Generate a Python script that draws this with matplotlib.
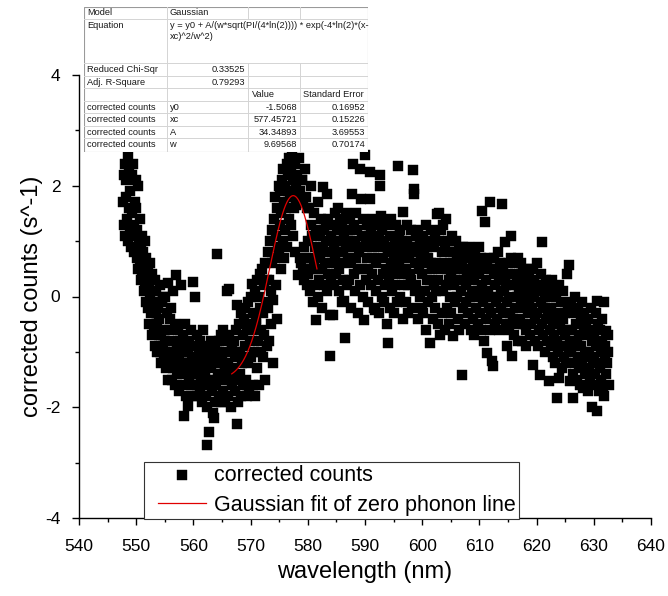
import matplotlib
matplotlib.use("Agg")
import matplotlib.pyplot as plt
import numpy as np

plt.rcParams['font.family'] = ['Liberation Sans', 'DejaVu Sans']
plt.rcParams['axes.unicode_minus'] = False

# ---------------- data ----------------
wavelength_nm = [
    547.7, 547.8, 547.9,
    548.0, 548.1, 548.2, 548.3, 548.4, 548.5, 548.6, 548.7, 548.8, 548.9,
    549.0, 549.1, 549.2, 549.3, 549.4, 549.5, 549.6, 549.7, 549.8, 549.9,
    550.0, 550.1, 550.2, 550.3, 550.4, 550.5, 550.6, 550.7, 550.8, 550.9,
    551.0, 551.1, 551.2, 551.3, 551.4, 551.5, 551.6, 551.7, 551.8, 551.9,
    552.0, 552.1, 552.2, 552.3, 552.4, 552.5, 552.6, 552.7, 552.8, 552.9,
    553.0, 553.1, 553.2, 553.3, 553.4, 553.5, 553.6, 553.7, 553.8, 553.9,
    554.0, 554.1, 554.2, 554.3, 554.4, 554.5, 554.6, 554.7, 554.8, 554.9,
    555.0, 555.1, 555.2, 555.3, 555.4, 555.5, 555.6, 555.7, 555.8, 555.9,
    556.0, 556.1, 556.2, 556.3, 556.4, 556.5, 556.6, 556.7, 556.8, 556.9,
    557.0, 557.1, 557.2, 557.3, 557.4, 557.5, 557.6, 557.7, 557.8, 557.9,
    558.0, 558.1, 558.2, 558.3, 558.4, 558.5, 558.6, 558.7, 558.8, 558.9,
    559.0, 559.1, 559.2, 559.3, 559.4, 559.5, 559.6, 559.7, 559.8, 559.9,
    560.0, 560.1, 560.2, 560.3, 560.4, 560.5, 560.6, 560.7, 560.8, 560.9,
    561.0, 561.1, 561.2, 561.3, 561.4, 561.5, 561.6, 561.7, 561.8, 561.9,
    562.0, 562.1, 562.2, 562.3, 562.4, 562.5, 562.6, 562.7, 562.8, 562.9,
    563.0, 563.1, 563.2, 563.3, 563.4, 563.5, 563.6, 563.7, 563.8, 563.9,
    564.0, 564.1, 564.2, 564.3, 564.4, 564.5, 564.6, 564.7, 564.8, 564.9,
    565.0, 565.1, 565.2, 565.3, 565.4, 565.5, 565.6, 565.7, 565.8, 565.9,
    566.0, 566.1, 566.2, 566.3, 566.4, 566.5, 566.6, 566.7, 566.8, 566.9,
    567.0, 567.1, 567.2, 567.3, 567.4, 567.5, 567.6, 567.7, 567.8, 567.9,
    568.0, 568.1, 568.2, 568.3, 568.4, 568.5, 568.6, 568.7, 568.8, 568.9,
    569.0, 569.1, 569.2, 569.3, 569.4, 569.5, 569.6, 569.7, 569.8, 569.9,
    570.0, 570.1, 570.2, 570.3, 570.4, 570.5, 570.6, 570.7, 570.8, 570.9,
    571.0, 571.1, 571.2, 571.3, 571.4, 571.5, 571.6, 571.7, 571.8, 571.9,
    572.0, 572.1, 572.2, 572.3, 572.4, 572.5, 572.6, 572.7, 572.8, 572.9,
    573.0, 573.1, 573.2, 573.3, 573.4, 573.5, 573.6, 573.7, 573.8, 573.9,
    574.0, 574.1, 574.2, 574.3, 574.4, 574.5, 574.6, 574.7, 574.8, 574.9,
    575.0, 575.1, 575.2, 575.3, 575.4, 575.5, 575.6, 575.7, 575.8, 575.9,
    576.0, 576.1, 576.2, 576.3, 576.4, 576.5, 576.6, 576.7, 576.8, 576.9,
    577.0, 577.1, 577.2, 577.3, 577.4, 577.5, 577.6, 577.7, 577.8, 577.9,
    578.0, 578.1, 578.2, 578.3, 578.4, 578.5, 578.6, 578.7, 578.8, 578.9,
    579.0, 579.1, 579.2, 579.3, 579.4, 579.5, 579.6, 579.7, 579.8, 579.9,
    580.0, 580.1, 580.2, 580.3, 580.4, 580.5, 580.6, 580.7, 580.8, 580.9,
    581.0, 581.1, 581.2, 581.3, 581.4, 581.5, 581.6, 581.7, 581.8, 581.9,
    582.0, 582.1, 582.2, 582.3, 582.4, 582.5, 582.6, 582.7, 582.8, 582.9,
    583.0, 583.1, 583.2, 583.3, 583.4, 583.5, 583.6, 583.7, 583.8, 583.9,
    584.0, 584.1, 584.2, 584.3, 584.4, 584.5, 584.6, 584.7, 584.8, 584.9,
    585.0, 585.1, 585.2, 585.3, 585.4, 585.5, 585.6, 585.7, 585.8, 585.9,
    586.0, 586.1, 586.2, 586.3, 586.4, 586.5, 586.6, 586.7, 586.8, 586.9,
    587.0, 587.1, 587.2, 587.3, 587.4, 587.5, 587.6, 587.7, 587.8, 587.9,
    588.0, 588.1, 588.2, 588.3, 588.4, 588.5, 588.6, 588.7, 588.8, 588.9,
    589.0, 589.1, 589.2, 589.3, 589.4, 589.5, 589.6, 589.7, 589.8, 589.9,
    590.0, 590.1, 590.2, 590.3, 590.4, 590.5, 590.6, 590.7, 590.8, 590.9,
    591.0, 591.1, 591.2, 591.3, 591.4, 591.5, 591.6, 591.7, 591.8, 591.9,
    592.0, 592.1, 592.2, 592.3, 592.4, 592.5, 592.6, 592.7, 592.8, 592.9,
    593.0, 593.1, 593.2, 593.3, 593.4, 593.5, 593.6, 593.7, 593.8, 593.9,
    594.0, 594.1, 594.2, 594.3, 594.4, 594.5, 594.6, 594.7, 594.8, 594.9,
    595.0, 595.1, 595.2, 595.3, 595.4, 595.5, 595.6, 595.7, 595.8, 595.9,
    596.0, 596.1, 596.2, 596.3, 596.4, 596.5, 596.6, 596.7, 596.8, 596.9,
    597.0, 597.1, 597.2, 597.3, 597.4, 597.5, 597.6, 597.7, 597.8, 597.9,
    598.0, 598.1, 598.2, 598.3, 598.4, 598.5, 598.6, 598.7, 598.8, 598.9,
    599.0, 599.1, 599.2, 599.3, 599.4, 599.5, 599.6, 599.7, 599.8, 599.9,
    600.0, 600.1, 600.2, 600.3, 600.4, 600.5, 600.6, 600.7, 600.8, 600.9,
    601.0, 601.1, 601.2, 601.3, 601.4, 601.5, 601.6, 601.7, 601.8, 601.9,
    602.0, 602.1, 602.2, 602.3, 602.4, 602.5, 602.6, 602.7, 602.8, 602.9,
    603.0, 603.1, 603.2, 603.3, 603.4, 603.5, 603.6, 603.7, 603.8, 603.9,
    604.0, 604.1, 604.2, 604.3, 604.4, 604.5, 604.6, 604.7, 604.8, 604.9,
    605.0, 605.1, 605.2, 605.3, 605.4, 605.5, 605.6, 605.7, 605.8, 605.9,
    606.0, 606.1, 606.2, 606.3, 606.4, 606.5, 606.6, 606.7, 606.8, 606.9,
    607.0, 607.1, 607.2, 607.3, 607.4, 607.5, 607.6, 607.7, 607.8, 607.9,
    608.0, 608.1, 608.2, 608.3, 608.4, 608.5, 608.6, 608.7, 608.8, 608.9,
    609.0, 609.1, 609.2, 609.3, 609.4, 609.5, 609.6, 609.7, 609.8, 609.9,
    610.0, 610.1, 610.2, 610.3, 610.4, 610.5, 610.6, 610.7, 610.8, 610.9,
    611.0, 611.1, 611.2, 611.3, 611.4, 611.5, 611.6, 611.7, 611.8, 611.9,
    612.0, 612.1, 612.2, 612.3, 612.4, 612.5, 612.6, 612.7, 612.8, 612.9,
    613.0, 613.1, 613.2, 613.3, 613.4, 613.5, 613.6, 613.7, 613.8, 613.9,
    614.0, 614.1, 614.2, 614.3, 614.4, 614.5, 614.6, 614.7, 614.8, 614.9,
    615.0, 615.1, 615.2, 615.3, 615.4, 615.5, 615.6, 615.7, 615.8, 615.9,
    616.0, 616.1, 616.2, 616.3, 616.4, 616.5, 616.6, 616.7, 616.8, 616.9,
    617.0, 617.1, 617.2, 617.3, 617.4, 617.5, 617.6, 617.7, 617.8, 617.9,
    618.0, 618.1, 618.2, 618.3, 618.4, 618.5, 618.6, 618.7, 618.8, 618.9,
    619.0, 619.1, 619.2, 619.3, 619.4, 619.5, 619.6, 619.7, 619.8, 619.9,
    620.0, 620.1, 620.2, 620.3, 620.4, 620.5, 620.6, 620.7, 620.8, 620.9,
    621.0, 621.1, 621.2, 621.3, 621.4, 621.5, 621.6, 621.7, 621.8, 621.9,
    622.0, 622.1, 622.2, 622.3, 622.4, 622.5, 622.6, 622.7, 622.8, 622.9,
    623.0, 623.1, 623.2, 623.3, 623.4, 623.5, 623.6, 623.7, 623.8, 623.9,
    624.0, 624.1, 624.2, 624.3, 624.4, 624.5, 624.6, 624.7, 624.8, 624.9,
    625.0, 625.1, 625.2, 625.3, 625.4, 625.5, 625.6, 625.7, 625.8, 625.9,
    626.0, 626.1, 626.2, 626.3, 626.4, 626.5, 626.6, 626.7, 626.8, 626.9,
    627.0, 627.1, 627.2, 627.3, 627.4, 627.5, 627.6, 627.7, 627.8, 627.9,
    628.0, 628.1, 628.2, 628.3, 628.4, 628.5, 628.6, 628.7, 628.8, 628.9,
    629.0, 629.1, 629.2, 629.3, 629.4, 629.5, 629.6, 629.7, 629.8, 629.9,
    630.0, 630.1, 630.2, 630.3, 630.4, 630.5, 630.6, 630.7, 630.8, 630.9,
    631.0, 631.1, 631.2, 631.3, 631.4, 631.5, 631.6, 631.7, 631.8, 631.9,
    632.0, 632.1, 632.2, 632.3, 632.4, 632.5, 632.6,
]

corrected_counts = [
    1.7, 2.2, 1.3,
    2.4, 1.1, 1.8, 2.1, 1.4, 2.56, 1.0, 1.6, 2.3, 1.2,
    1.9, 0.9, 2.2, 1.5, 1.1, 2.4, 1.3, 0.8, 1.7, 2.1,
    1.6, 0.7, 1.2, 2.0, 0.5, 1.0, 1.4, 0.6, 0.9, 0.3,
    1.1, 0.4, 0.8, 0.1, 0.6, 1.0, 0.2, -0.1, 0.7, 0.3,
    0.5, -0.2, 0.2, -0.5, 0.6, 0.0, -0.3, 0.4, -0.7, 0.1,
    -0.1, -0.6, 0.3, -0.9, -0.3, 0.1, -0.5, -1.0, -0.2, -0.7,
    -0.4, -1.0, 0.2, -0.7, -1.2, -0.1, -0.9, 0.0, -1.1, -0.6,
    -0.8, 0.0, -1.3, -0.3, -1.0, -1.5, 0.25, -1.2, -0.6, -0.4,
    -1.1, -0.2, -1.5, -0.8, -1.3, 0.1, -1.0, -1.6, -0.5, -1.2,
    0.38, -0.9, -1.4, -0.6, -1.1, -1.7, -0.8, -1.3, 0.2, -1.0,
    -1.2, -0.7, -1.6, -2.15, -1.0, -1.4, -0.5, -1.8, -0.9, -1.3,
    -1.0, -1.97, -1.5, -0.8, -1.2, -1.6, -0.6, -1.4, -1.1, -1.8,
    0.27, -1.3, 0.0, -0.9, -1.6, -1.1, -1.8, -0.7, -1.4, -1.0,
    -1.2, -1.7, -0.8, -1.5, -1.0, -1.9, -1.3, -0.6, -1.6, -1.1,
    -1.4, -0.9, -1.8, -2.0, -2.69, -1.2, -1.6, -2.44, -1.0, -1.5,
    -1.3, -0.8, -1.7, -1.1, -2.1, -1.5, -2.19, -0.9, -1.9, -1.2,
    -1.6, -1.0, 0.77, -1.4, -0.8, -1.8, -1.2, -1.5, -0.7, -1.9,
    -1.1, -1.7, -0.6, -1.4, -1.0, -1.9, -1.3, -0.8, 0.1, -1.5,
    -1.2, -1.8, 0.14, -0.7, -1.5, -1.0, -2.0, -0.9, -1.6, -1.3,
    -1.4, -0.8, -1.7, -1.1, -0.6, -1.5, -2.3, -0.16, -1.9, -1.0,
    -0.5, -1.4, -1.0, -1.8, -0.3, -1.2, -0.7, -1.6, -0.4, -1.1,
    -0.9, -0.2, -1.5, -0.6, -1.8, -0.1, -1.2, -0.5, -1.7, -0.8,
    0.0, -1.1, 0.23, -0.6, -1.6, -0.3, -1.0, -1.8, 0.1, -0.5,
    -0.4, 0.3, -1.3, -0.8, 0.0, -1.6, -0.2, 0.4, -1.0, -0.6,
    0.5, -0.3, -1.1, 0.2, -0.7, -1.5, 0.6, -0.1, -0.9, 0.3,
    0.8, -0.2, 0.3, -0.8, 1.0, 0.1, -0.5, 0.6, 1.2, -1.2,
    -0.07, 1.4, 0.7, 1.8, 0.2, 1.1, -0.4, 1.6, 0.9, 2.0,
    0.77, 1.3, 1.9, 0.5, 1.5, 2.1, 1.0, 2.3, 1.7, 0.7,
    2.0, 1.2, 1.6, 2.4, 0.9, 1.9, 2.2, 1.4, 2.5, 1.8,
    1.3, 2.3, 1.9, 2.55, 1.1, 2.1, 1.6, 2.4, 0.8, 2.0,
    1.65, 2.2, 0.38, 1.8, 1.7, 2.5, 0.7, 1.9, 0.6, 2.1,
    2.1, 0.5, 1.7, 0.9, 0.3, 2.3, 1.8, 0.7, 0.2, 1.6,
    1.0, 0.4, 1.6, 0.1, 0.7, 1.3, 2.0, 0.5, 1.1, -0.1,
    0.6, 1.5, 0.2, 0.9, -0.43, 1.2, 0.5, 1.7, 0.0, 0.8,
    0.3, 1.1, 0.7, 1.4, -0.2, 0.5, 1.97, 0.9, 0.2, 1.2,
    0.6, 1.0, 1.3, 0.1, 1.85, 0.4, 1.4, 0.8, -0.34, -1.08,
    1.1, 0.3, 0.6, 1.3, -0.34, 0.9, 0.2, 1.5, 0.7, 1.0,
    0.4, 1.2, 1.6, 0.8, 0.1, 0.5, 1.0, 1.4, 0.6, -0.1,
    1.3, 0.3, 0.8, 1.1, -0.09, -0.75, 1.5, 0.9, 0.2, 1.2,
    0.7, 1.0, 0.3, 1.4, 1.2, -0.2, 0.6, 1.85, 0.9, 2.39,
    0.4, 1.3, 1.0, 0.1, 0.7, 1.5, 1.2, -0.3, 0.5, 0.9,
    0.8, 2.3, 0.2, 1.76, 1.1, 0.5, 1.4, 0.0, -0.43, 0.9,
    2.56, 0.3, 1.0, 0.7, 1.3, -0.1, 0.5, 1.1, 2.24, 1.76,
    0.2, 1.2, 0.9, 0.4, 1.4, -0.2, 0.7, -0.25, 1.0, 0.1,
    0.6, 1.3, 0.3, 0.9, 1.1, -0.3, 2.2, 2.0, 1.45, 0.0,
    1.2, 0.4, 0.7, -0.1, 1.0, 0.2, 0.5, 1.3, -0.5, 0.9,
    0.8, -0.84, 0.3, 1.1, -0.2, 0.6, 1.4, 0.1, 0.9, 0.4,
    0.7, -0.3, 1.0, 0.2, 0.5, 1.3, -0.1, 0.8, 2.35, 1.1,
    0.6, 1.2, 0.0, 0.9, 1.0, 0.4, 1.52, -0.4, 0.7, 0.2,
    0.8, -0.1, 0.5, 1.0, 1.3, 0.2, -0.3, 0.7, 0.9, 0.4,
    0.3, 1.2, 0.8, -0.2, 2.28, 1.94, 1.85, 0.1, 0.6, 1.1,
    0.2, 0.9, 1.2, -0.4, 0.5, 0.8, 0.0, 1.0, 0.7, -0.2,
    0.4, 1.1, -0.3, 0.8, 0.6, 0.1, 1.3, -0.6, 0.3, 0.9,
    0.7, -0.1, 1.0, 0.3, -0.84, 0.6, 1.2, 0.0, 0.5, -0.4,
    0.2, 0.9, -0.2, 1.1, 0.6, 0.1, 1.49, -0.5, 0.3, 1.0,
    1.5, -0.7, 0.5, 1.2, -0.3, 0.8, 0.1, 1.3, 0.6, -0.6,
    0.9, 0.2, 1.4, -0.2, 0.5, 1.0, -0.5, 0.3, 0.8, 0.0,
    0.4, -0.3, 1.1, 0.6, -0.72, 0.2, 0.8, -0.1, 0.5, 1.0,
    0.0, 0.7, -0.4, 0.3, 0.9, -0.6, 0.5, 0.1, 0.8, -1.42,
    0.6, -0.2, 0.9, 0.3, -0.5, 0.7, 0.2, -0.1, 0.8, 0.4,
    -0.3, 0.5, 0.9, 0.0, 0.4, -0.6, 0.7, 0.1, -0.4, 0.6,
    0.3, -0.7, 0.8, 0.0, -0.2, 0.5, 0.6, -0.5, 0.1, 0.9,
    0.4, -0.3, 0.7, -0.6, 1.54, 0.2, -0.1, 0.5, -0.8, 0.0,
    1.34, 0.3, -0.4, -1.02, 0.6, 0.1, -0.2, 0.7, -0.6, 1.7,
    -0.3, 0.5, -1.17, 0.0, -1.26, 0.4, 0.7, -0.5, 0.2, -0.1,
    0.5, -0.4, 0.0, 0.8, -0.6, 0.3, 0.6, -0.2, 0.1, 0.4,
    1.67, -0.3, 0.5, 0.1, 0.3, 0.99, -0.5, 0.2, -0.9, -0.1,
    0.6, -0.6, 0.0, 0.4, -0.3, 0.7, 1.09, -1.08, 0.2, -0.4,
    0.2, -0.7, 0.6, -0.2, -0.5, 0.3, 0.0, 0.7, -0.8, 0.1,
    0.4, -0.4, -0.1, 0.6, 0.2, -0.8, -0.5, 0.5, 0.0, -0.2,
    0.3, -0.6, -0.9, 0.1, 0.5, -0.3, -0.1, 0.4, -0.7, 0.0,
    0.2, -0.5, -0.2, 0.5, -1.24, 0.0, 0.3, -0.8, -0.4, 0.1,
    0.6, -0.3, -0.9, 0.1, 0.2, -0.6, -1.42, -0.1, 0.4, -0.5,
    0.99, -0.2, -0.7, 0.2, 0.0, -1.0, 0.3, -0.4, -0.8, 0.1,
    -0.3, 0.2, -1.53, -0.6, 0.0, -0.9, -0.2, 0.3, -1.1, -0.5,
    0.1, -0.7, -0.4, -1.2, 0.0, -0.8, -1.83, -0.3, -1.0, 0.2,
    -1.47, -0.5, -0.1, -0.9, -0.6, -1.3, 0.1, -0.4, -1.1, -0.7,
    -0.3, -0.9, -1.2, 0.41, -0.6, -0.2, -1.0, 0.56, -1.52, -0.8,
    -1.0, -0.1, -0.6, -1.4, -1.83, -0.3, -0.9, -1.2, 0.0, -0.5,
    -0.8, -1.5, -0.2, -1.1, -0.7, -1.3, -1.6, -0.4, -0.9, -0.1,
    -1.2, -1.65, -0.6, -0.3, -1.0, -1.4, -0.7, -0.5, -1.1, -1.7,
    -0.4, -1.3, -1.0, -0.6, -1.5, -0.2, -0.8, -2.0, -1.2, -1.6,
    -1.1, -0.7, -1.4, -0.3, -0.9, -0.09, -2.06, -1.2, -0.5, -1.7,
    -0.6, -1.3, -1.0, -1.5, -0.4, -0.8, -1.65, -1.8, -0.1, -1.1,
    -0.9, -1.4, -0.63, -1.2, -1.0, -0.7, -1.6,
]

# Gaussian fit parameters (from the inset table)
fit_y0 = -1.5068
fit_xc = 577.45721
fit_A = 34.34893
fit_w = 9.69568
fit_range = [566.7, 581.6]

table_rows = [
    ["Model", "Gaussian", "", ""],
    ["Equation", "", "", ""],
    ["Reduced Chi-Sqr", "0.33525", "", ""],
    ["Adj. R-Square", "0.79293", "", ""],
    ["", "", "Value", "Standard Error"],
    ["corrected counts", "y0", "-1.5068", "0.16952"],
    ["corrected counts", "xc", "577.45721", "0.15226"],
    ["corrected counts", "A", "34.34893", "3.69553"],
    ["corrected counts", "w", "9.69568", "0.70174"],
]
equation_lines = ["y = y0 + A/(w*sqrt(PI/(4*ln(2)))) * exp(-4*ln(2)*(x-",
                  "xc)^2/w^2)"]

# ---------------- figure ----------------
W, H = 668, 596
fig = plt.figure(figsize=(W / 100, H / 100), dpi=100)
ax_l, ax_r, ax_t, ax_b = 79, 651, 75, 518
ax = fig.add_axes([ax_l / W, 1 - ax_b / H, (ax_r - ax_l) / W, (ax_b - ax_t) / H])

ax.scatter(wavelength_nm, corrected_counts, marker='s', s=52, c='black',
           edgecolors='black', linewidths=0.3, zorder=2, label='corrected counts')

xf = np.linspace(fit_range[0], fit_range[1], 300)
yf = fit_y0 + fit_A / (fit_w * np.sqrt(np.pi / (4 * np.log(2)))) * \
    np.exp(-4 * np.log(2) * (xf - fit_xc) ** 2 / fit_w ** 2)
ax.plot(xf, yf, color='#e00000', lw=0.9, zorder=3,
        label='Gaussian fit of zero phonon line')

ax.set_xlim(540, 640)
ax.set_ylim(-4, 4)
ax.set_xticks(np.arange(540, 641, 10))
ax.set_xticks(np.arange(545, 640, 10), minor=True)
ax.set_yticks([-4, -2, 0, 2, 4])
ax.set_yticks([-3, -1, 1, 3], minor=True)
for s in ['top', 'right']:
    ax.spines[s].set_visible(False)
for s in ['left', 'bottom']:
    ax.spines[s].set_linewidth(1.0)
ax.tick_params(which='major', direction='out', length=5, width=1.0,
               labelsize=12.5)
ax.tick_params(axis='x', which='major', pad=10)
ax.tick_params(axis='y', which='major', pad=8.5)
ax.tick_params(which='minor', direction='out', length=3, width=1.0)
ax.set_xlabel('wavelength (nm)', fontsize=17, labelpad=5.5)
ax.set_ylabel('corrected counts (s^-1)', fontsize=17, labelpad=1.5)

# legend: frame drawn as a rectangle in pixel positions, entries by matplotlib
lb_l, lb_r, lb_t, lb_b = 143.6, 518.6, 462, 518.6
frame = plt.Rectangle((lb_l / W, 1 - lb_b / H), (lb_r - lb_l) / W, (lb_b - lb_t) / H,
                      transform=fig.transFigure, facecolor='white',
                      edgecolor='#333333', lw=0.8, zorder=4)
ax.add_patch(frame)
frame.set_clip_on(False)
leg = ax.legend(loc='upper left',
                bbox_to_anchor=(158 / W, 1 - 465 / H),
                bbox_transform=fig.transFigure,
                borderaxespad=0, fontsize=15.5, frameon=False,
                handlelength=2.25, handletextpad=0.35, borderpad=0.0,
                labelspacing=0.4, scatterpoints=1)
leg.set_zorder(5)

# ---------------- inset table ----------------
tl, tr, tt, tb = 84, 368, 6.7, 151.5
tax = fig.add_axes([tl / W, 1 - tb / H, (tr - tl) / W, (tb - tt) / H])
tax.set_xlim(tl, tr)
tax.set_ylim(tb, tt)
tax.axis('off')
tax.add_patch(plt.Rectangle((tl, tt), tr - tl, tb - tt, facecolor='white',
                            edgecolor='#9a9a9a', lw=0.8, zorder=0))
row_edges = [6.7, 18.7, 63.3, 76.0, 88.3, 100.7, 113.3, 125.7, 138.3, 151.5]
grid_c = '#d4d4d4'
for yv in row_edges[1:-1]:
    tax.plot([tl, tr], [yv, yv], color=grid_c, lw=0.7)
for i in range(len(row_edges) - 1):
    y0r, y1r = row_edges[i], row_edges[i + 1]
    xs = [167] if i == 1 else [167, 248, 300]
    for xv in xs:
        tax.plot([xv, xv], [y0r, y1r], color=grid_c, lw=0.7)

tfs = 6.7
tc = '#1a1a1a'
for i, row in enumerate(table_rows):
    yc = (row_edges[i] + row_edges[i + 1]) / 2
    if i == 1:
        tax.text(87, 25, row[0], fontsize=tfs, color=tc, va='center', ha='left')
        tax.text(169.5, 25, equation_lines[0], fontsize=tfs, color=tc, va='center', ha='left')
        tax.text(169.5, 36.5, equation_lines[1], fontsize=tfs, color=tc, va='center', ha='left')
        continue
    tax.text(87, yc, row[0], fontsize=tfs, color=tc, va='center', ha='left')
    if i in (2, 3):
        tax.text(245.5, yc, row[1], fontsize=tfs, color=tc, va='center', ha='right')
    else:
        tax.text(169.5, yc, row[1], fontsize=tfs, color=tc, va='center', ha='left')
    if i == 4:
        tax.text(252, yc, row[2], fontsize=tfs, color=tc, va='center', ha='left')
        tax.text(303, yc, row[3], fontsize=tfs, color=tc, va='center', ha='left')
    else:
        tax.text(297.5, yc, row[2], fontsize=tfs, color=tc, va='center', ha='right')
        tax.text(365.5, yc, row[3], fontsize=tfs, color=tc, va='center', ha='right')

fig.savefig('out.png', dpi=100)
